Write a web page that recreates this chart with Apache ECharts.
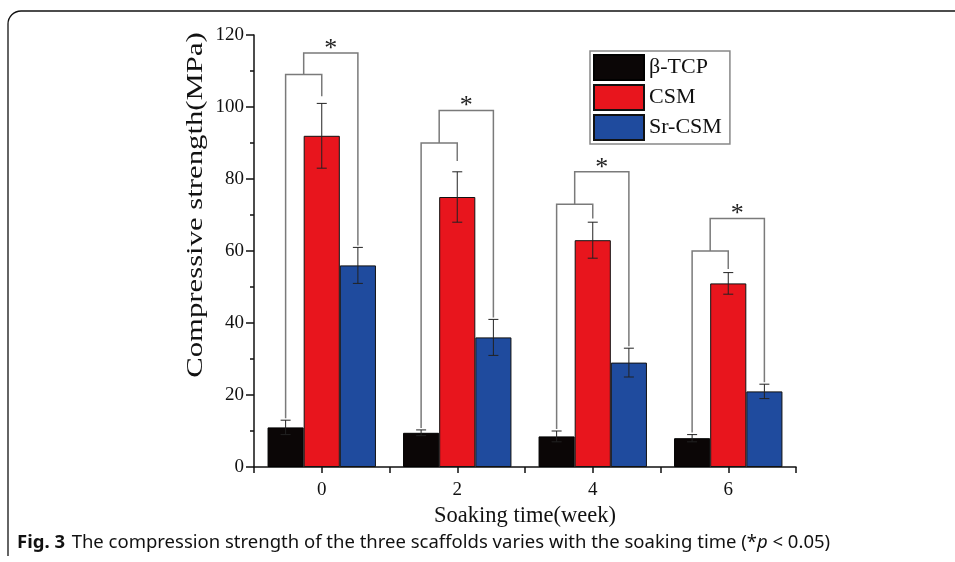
<!DOCTYPE html>
<html>
<head>
<meta charset="utf-8">
<script src="https://cdn.jsdelivr.net/npm/echarts@6/dist/echarts.min.js"></script>
<style>
  html, body { margin: 0; padding: 0; background: #fff; }
  #main { width: 955px; height: 562px; }
</style>
</head>
<body>
<div id="main"></div>
<script>
// soaking time categories (weeks)
var weeks = ["0", "2", "4", "6"];
var yTicks = [0, 20, 40, 60, 80, 100, 120];

// compressive strength (MPa) and error bars
var tcp = [11, 9.5, 8.5, 8];
var tcpErr = [2, 0.8, 1.5, 1];
var csm = [92, 75, 63, 51];
var csmErr = [9, 7, 5, 3];
var srCsm = [56, 36, 29, 21];
var srCsmErr = [5, 5, 4, 2];

// significance brackets (MPa levels)
var innerLevel = [109, 90, 73, 60];
var innerRightEnd = [103, 85, 69, 55];
var outerLevel = [115, 99, 82, 69];

var serif = "Liberation Serif";
var myChart = echarts.init(document.getElementById("main"), null, { renderer: "canvas" });

function errorSeries(values, errs, slot) {
    return {
        type: "custom",
        z: 5,
        silent: true,
        data: values.map(function (v, i) { return [i, v, errs[i]]; }),
        encode: { x: 0, y: 1 },
        renderItem: function (params, api) {
            var i = api.value(0);
            var v = api.value(1);
            var e = api.value(2);
            var band = api.size([1, 0])[0];
            var off = slot * band * 0.8 / 3;
            var top = api.coord([i, v + e]);
            var bot = api.coord([i, v - e]);
            var x = top[0] + off;
            var cap = 5;
            var st = { stroke: "#222", lineWidth: 1 };
            return {
                type: "group",
                children: [
                    { type: "line", shape: { x1: x, y1: top[1], x2: x, y2: bot[1] }, style: st },
                    { type: "line", shape: { x1: x - cap, y1: top[1], x2: x + cap, y2: top[1] }, style: st },
                    { type: "line", shape: { x1: x - cap, y1: bot[1], x2: x + cap, y2: bot[1] }, style: st }
                ]
            };
        }
    };
}

var bracketData = weeks.map(function (w, i) {
    return [i, innerLevel[i], innerRightEnd[i], outerLevel[i], tcp[i] + tcpErr[i], srCsm[i] + srCsmErr[i]];
});

option = {
    backgroundColor: "#fff",
    animation: false,
    grid: { left: 254, right: 159, top: 35, bottom: 95 },
    legend: {
        orient: "vertical",
        left: 590,
        top: 51,
        itemWidth: 50,
        itemHeight: 25,
        itemGap: 3,
        padding: [3, 8, 3, 3],
        borderColor: "#888",
        borderWidth: 1.5,
        icon: "rect",
        textStyle: { fontFamily: serif, fontSize: 22, color: "#111" },
        data: ["β-TCP", "CSM", "Sr-CSM"]
    },
    xAxis: [
        {
            type: "category",
            data: weeks,
            name: "Soaking time(week)",
            nameLocation: "middle",
            nameGap: 31,
            nameTextStyle: { fontFamily: serif, fontSize: 22.5, color: "#111" },
            axisLine: { lineStyle: { color: "#111", width: 1.5 } },
            axisTick: { show: true, inside: false, length: 6, lineStyle: { color: "#111", width: 1.5 } },
            axisLabel: { fontFamily: serif, fontSize: 19, color: "#111", margin: 14 },
            splitLine: { show: false }
        },
        {
            type: "category",
            data: weeks,
            position: "bottom",
            axisLine: { show: false },
            axisTick: { show: true, alignWithLabel: true, length: 6, lineStyle: { color: "#111", width: 1.5 } },
            axisLabel: { show: false },
            splitLine: { show: false }
        }
    ],
    yAxis: {
        type: "value",
        min: yTicks[0],
        max: yTicks[yTicks.length - 1],
        interval: 20,
        axisLine: { show: true, lineStyle: { color: "#111", width: 1.5 } },
        axisTick: { show: true, length: 8, lineStyle: { color: "#111", width: 1.5 } },
        minorTick: { show: true, splitNumber: 2, length: 4, lineStyle: { color: "#111", width: 1.5 } },
        axisLabel: { fontFamily: serif, fontSize: 19, color: "#111", margin: 10 },
        splitLine: { show: false }
    },
    series: [
        {
            name: "β-TCP",
            type: "bar",
            barGap: "0%",
            barCategoryGap: "20%",
            itemStyle: { color: "#0b0606", borderColor: "#000", borderWidth: 1 },
            data: tcp
        },
        {
            name: "CSM",
            type: "bar",
            itemStyle: { color: "#e8151d", borderColor: "#111", borderWidth: 1 },
            data: csm
        },
        {
            name: "Sr-CSM",
            type: "bar",
            itemStyle: { color: "#1f4b9e", borderColor: "#111", borderWidth: 1 },
            data: srCsm
        },
        errorSeries(tcp, tcpErr, -1),
        errorSeries(csm, csmErr, 0),
        errorSeries(srCsm, srCsmErr, 1),
        {
            type: "custom",
            z: 6,
            silent: true,
            data: bracketData,
            encode: { x: 0, y: 1 },
            renderItem: function (params, api) {
                var i = api.value(0);
                var band = api.size([1, 0])[0];
                var bw = band * 0.8 / 3;
                var cx = api.coord([i, 0])[0];
                var xL = cx - bw, xM = cx, xR = cx + bw;
                var y = function (v) { return api.coord([i, v])[1]; };
                var yIn = y(api.value(1));
                var yInEnd = y(api.value(2));
                var yOut = y(api.value(3));
                var yTcp = y(api.value(4)) - 2;
                var ySr = y(api.value(5)) - 2;
                var xMid = (xL + xM) / 2;
                var st = { stroke: "#7a7a7a", lineWidth: 1.5, fill: null };
                return {
                    type: "group",
                    children: [
                        { type: "polyline", shape: { points: [[xL, yTcp], [xL, yIn], [xM, yIn], [xM, yInEnd]] }, style: st },
                        { type: "polyline", shape: { points: [[xMid, yIn], [xMid, yOut], [xR, yOut], [xR, ySr]] }, style: st },
                        {
                            type: "text",
                            style: {
                                text: "*",
                                x: (xMid + xR) / 2,
                                y: yOut - 4,
                                align: "center",
                                verticalAlign: "middle",
                                font: "26px " + serif,
                                fill: "#222"
                            }
                        }
                    ]
                };
            }
        }
    ],
    graphic: [
        {
            type: "line",
            silent: true,
            shape: { x1: 21, y1: 11, x2: 955, y2: 11 },
            style: { stroke: "#111", lineWidth: 1.3 }
        },
        {
            type: "arc",
            silent: true,
            shape: { cx: 21, cy: 24, r: 13, startAngle: Math.PI, endAngle: Math.PI * 1.5 },
            style: { stroke: "#111", lineWidth: 1.3, fill: null }
        },
        {
            type: "line",
            silent: true,
            shape: { x1: 8, y1: 24, x2: 8, y2: 556 },
            style: { stroke: "#111", lineWidth: 1.3 }
        },
        {
            // y axis title, stretched along its length as in the figure
            type: "text",
            x: 196,
            y: 205,
            rotation: Math.PI / 2,
            scaleX: 1.28,
            style: {
                text: "Compressive strength(MPa)",
                font: "24px " + serif,
                fill: "#111",
                align: "center",
                verticalAlign: "middle"
            }
        },
        {
            type: "text",
            left: 17,
            top: 533,
            style: {
                text: "{b|Fig. 3}  {n|The compression strength of the three scaffolds varies with the soaking time (*}{i|p}{n| < 0.05)}",
                rich: {
                    b: { fontFamily: "Noto Sans", fontWeight: "bold", fontSize: 18.5, fill: "#111" },
                    n: { fontFamily: "Noto Sans", fontSize: 18.5, fill: "#111" },
                    i: { fontFamily: "Noto Sans", fontStyle: "italic", fontSize: 18.5, fill: "#111" }
                }
            }
        }
    ]
};
option && myChart.setOption(option);
</script>
</body>
</html>
